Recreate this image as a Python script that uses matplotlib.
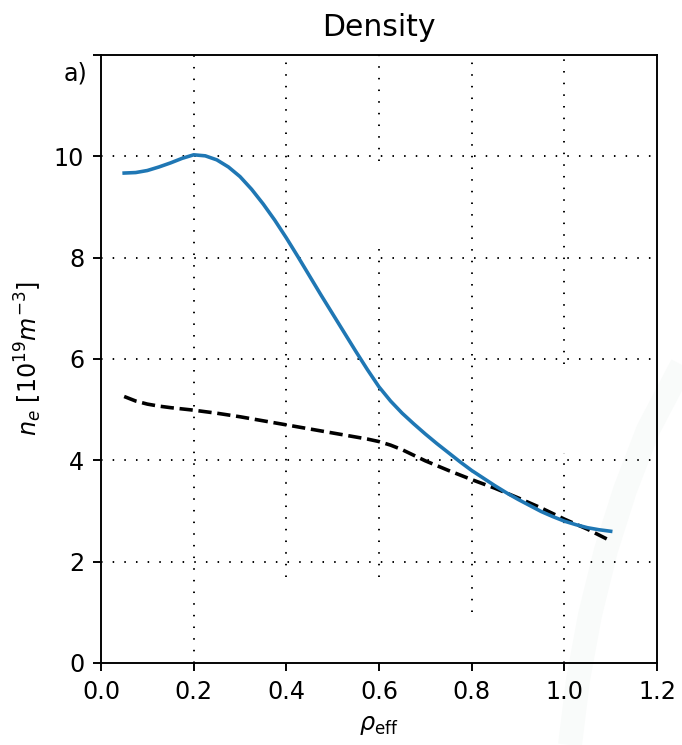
import numpy as np
import matplotlib
matplotlib.use("Agg")
import matplotlib.pyplot as plt
from matplotlib.lines import Line2D

# Data
rho_model = [0.05, 0.075, 0.10, 0.125, 0.15, 0.175, 0.20, 0.225, 0.25, 0.275,
             0.30, 0.325, 0.35, 0.375, 0.40, 0.425, 0.45, 0.475, 0.50, 0.525,
             0.55, 0.575, 0.60, 0.625, 0.65, 0.675, 0.70, 0.725, 0.75, 0.775,
             0.80, 0.825, 0.85, 0.875, 0.90, 0.925, 0.95, 0.975, 1.00, 1.025,
             1.05, 1.075, 1.10]
ne_model = [9.67, 9.68, 9.72, 9.79, 9.87, 9.96, 10.03, 10.01, 9.93, 9.79,
            9.60, 9.35, 9.06, 8.74, 8.39, 8.02, 7.64, 7.26, 6.89, 6.52,
            6.15, 5.79, 5.45, 5.17, 4.93, 4.72, 4.52, 4.33, 4.15, 3.97,
            3.80, 3.65, 3.50, 3.36, 3.23, 3.11, 2.99, 2.89, 2.80, 2.73,
            2.67, 2.63, 2.60]

rho_ref = [0.05, 0.075, 0.10, 0.125, 0.15, 0.20, 0.25, 0.30, 0.35, 0.40, 0.45,
           0.50, 0.55, 0.575, 0.60, 0.625, 0.65, 0.675, 0.70, 0.75, 0.80, 0.85,
           0.90, 0.95, 1.00, 1.05, 1.10]
ne_ref = [5.26, 5.17, 5.11, 5.07, 5.04, 4.99, 4.93, 4.86, 4.78, 4.70, 4.62,
          4.54, 4.46, 4.42, 4.37, 4.30, 4.21, 4.10, 3.99, 3.80, 3.62, 3.45,
          3.26, 3.06, 2.84, 2.64, 2.41]

xticks = [0.0, 0.2, 0.4, 0.6, 0.8, 1.0, 1.2]
yticks = [0, 2, 4, 6, 8, 10, 12]
ytick_labels = ["0", "2", "4", "6", "8", "10", ""]

# vertical grid segments as they appear (broken) in the reference
vgrid_x = [0.2, 0.4, 0.6, 0.6, 0.8, 1.0, 1.0]
vgrid_lo = [0.0, 1.7, 1.7, 9.9, 1.0, 0.0, 5.9]
vgrid_hi = [12.0, 12.0, 8.3, 12.0, 12.0, 4.15, 12.0]

DPI = 172
fig = plt.figure(figsize=(682 / DPI, 745 / DPI), dpi=DPI)

# faint background swoosh (decoration)
sw_x = np.array([570, 578, 590, 606, 625, 648, 682]) / 682
sw_y = 1 - np.array([745, 680, 615, 550, 490, 430, 365]) / 745
fig.add_artist(Line2D(sw_x, sw_y, color="#f9fbfa", lw=10, solid_capstyle="butt",
                      solid_joinstyle="round", transform=fig.transFigure, zorder=0))

ax = fig.add_axes([101 / 682, 82 / 745, 556 / 682, 608 / 745])
ax.set_facecolor("none")

grid_ls = (0, (0.8, 5.3))
for y in yticks[1:-1]:
    ax.axhline(y, color="k", lw=0.8, linestyle=grid_ls, zorder=1)
ax.vlines(vgrid_x, vgrid_lo, vgrid_hi, colors="k", lw=0.8, linestyles=[grid_ls], zorder=1)

ax.plot(rho_model, ne_model, color="#1f77b4", lw=1.5, zorder=3)
ax.plot(rho_ref, ne_ref, "k--", lw=1.5, zorder=2)

ax.set_xlim(0, 1.2)
ax.set_ylim(0, 12)
ax.set_xticks(xticks)
ax.set_yticks(yticks)
ax.set_yticklabels(ytick_labels)
ax.set_title("Density", fontsize=12.5, pad=8)
ax.set_xlabel(r"$\rho_{\rm eff}$")
ax.set_ylabel(r"$n_e$ [$10^{19} m^{-3}$]")
ax.text(-0.025, 0.99, "a)", transform=ax.transAxes, ha="right", va="top", fontsize=10)

fig.savefig("out.png", dpi=DPI)
